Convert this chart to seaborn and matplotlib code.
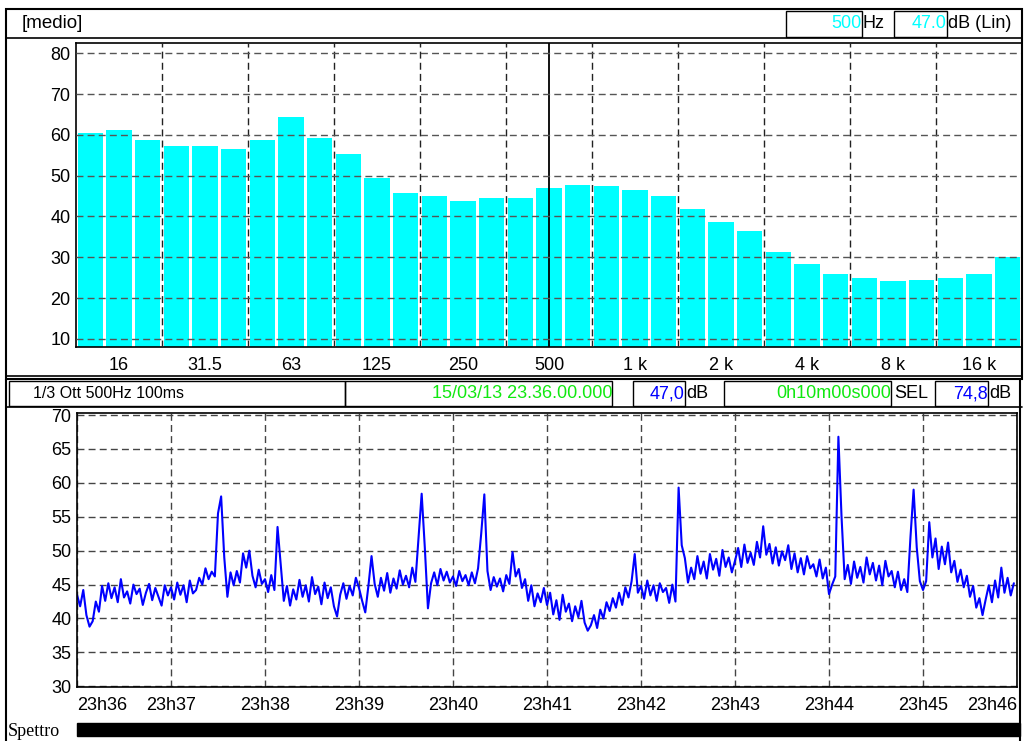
import numpy as np
import pandas as pd
import seaborn as sns
import matplotlib.pyplot as plt
from matplotlib.patches import Rectangle
from matplotlib.lines import Line2D

W, H = 1026, 741

# spettro medio in 1/3 ottava (dB lin)
bande = ["12.5", "16", "20", "25", "31.5", "40", "50", "63", "80", "100",
         "125", "160", "200", "250", "315", "400", "500", "630", "800", "1 k",
         "1.25 k", "1.6 k", "2 k", "2.5 k", "3.15 k", "4 k", "5 k", "6.3 k",
         "8 k", "10 k", "12.5 k", "16 k", "20 k"]
livelli = [60.4, 61.2, 58.8, 57.3, 57.3, 56.6, 58.8, 64.4, 59.3, 55.3,
           49.5, 45.8, 45.0, 43.8, 44.5, 44.5, 47.0, 47.7, 47.5, 46.5,
           45.0, 41.8, 38.7, 36.5, 31.3, 28.4, 25.9, 24.9, 24.2, 24.4,
           24.9, 25.9, 30.1]
banda_cursore = "500"

# andamento nel tempo della banda a 500 Hz (un valore ogni 2 s)
minuti = ["23h36", "23h37", "23h38", "23h39", "23h40", "23h41",
          "23h42", "23h43", "23h44", "23h45", "23h46"]
passo_s = 2
leq = [
    43.5, 41.8, 44.2, 40.5, 38.8, 39.6, 42.5, 41.0, 44.8, 42.6, 45.2, 43.0, 44.6, 42.4, 45.8,
    43.1, 44.0, 42.2, 45.0, 43.6, 44.4, 42.0, 43.8, 45.1, 42.7, 44.5, 43.2, 41.9, 44.9, 43.4,
    44.6, 42.8, 45.3, 43.5, 44.9, 42.4, 45.6, 43.7, 44.2, 46.0, 45.0, 47.4, 45.8, 46.9, 46.2,
    55.5, 58.0, 49.0, 43.2, 46.8, 44.9, 47.0, 45.3, 49.6, 47.5, 50.0, 46.3, 44.6, 47.2, 45.1,
    45.8, 43.9, 46.4, 44.2, 53.5, 48.0, 42.6, 44.8, 41.9, 44.3, 42.8, 45.7, 43.2, 44.9, 42.5,
    46.1, 43.6, 44.7, 42.1, 45.3, 43.0, 44.6, 41.8, 40.3, 43.5, 45.2, 42.9, 44.8, 43.4, 46.0,
    44.5, 42.6, 40.9, 44.8, 49.2, 45.1, 43.2, 46.0, 44.1, 46.7, 43.8, 45.9, 44.4, 47.1, 45.0,
    46.3, 44.6, 47.5, 45.4, 52.0, 58.4, 50.5, 41.5, 45.2, 46.8, 44.9, 47.3, 45.6, 46.9, 45.3,
    46.2, 44.8, 47.0, 45.5, 46.4, 44.9, 46.8, 45.2, 47.4, 52.5, 58.3, 47.0, 44.2, 46.1, 44.7,
    45.9, 44.0, 46.4, 45.1, 49.8, 46.2, 47.3, 44.5, 45.8, 42.6, 44.9, 41.8, 43.7, 42.4, 44.5,
    42.0, 43.8, 40.6, 42.7, 39.8, 43.5, 41.0, 42.2, 39.6, 41.8, 40.2, 42.6, 39.4, 38.2, 39.0,
    40.5, 38.6, 41.3, 40.0, 42.4, 41.1, 43.0, 41.6, 43.8, 42.0, 44.6, 43.1, 45.5, 49.5, 43.8,
    44.8, 42.9, 45.6, 43.4, 44.9, 42.6, 45.2, 43.9, 44.5, 42.3, 45.0, 42.5, 59.3, 50.8, 48.9,
    45.3, 47.5, 45.8, 49.2, 46.6, 48.4, 45.9, 49.5, 47.2, 48.8, 46.3, 50.1, 47.6, 49.0, 46.8,
    48.5, 50.4, 47.6, 50.9, 48.2, 49.7, 47.9, 51.3, 49.0, 53.6, 49.4, 51.0, 48.1, 50.5, 47.8,
    49.9, 48.6, 50.8, 47.3, 49.6, 46.8, 48.9, 46.5, 49.2, 47.4, 48.0, 46.2, 48.7, 45.9, 47.5,
    43.6, 45.0, 46.2, 66.8, 55.0, 45.8, 47.9, 45.1, 48.4, 46.0, 47.6, 45.3, 49.0, 46.5, 48.2,
    45.6, 47.8, 44.9, 48.5, 46.2, 47.0, 44.6, 46.9, 44.2, 45.8, 43.9, 52.0, 59.0, 50.5, 45.5,
    44.2, 45.5, 54.2, 49.0, 51.8, 47.3, 50.6, 48.0, 51.2, 46.8, 48.5, 45.4, 47.2, 44.6, 46.3,
    43.2, 44.8, 41.6, 43.0, 40.5, 42.8, 44.9, 42.4, 45.6, 43.1, 47.5, 43.8, 46.0, 43.4, 45.2,
]

CIANO = "#00ffff"
VERDE = "#10e810"
BLU = "#0000ff"
TRATTEGGIO = (0, (5, 3))


def area(x0, y0, x1, y1):
    # rettangolo in pixel (origine in alto a sinistra) -> frazioni di figura
    return [x0 / W, 1 - y1 / H, (x1 - x0) / W, (y1 - y0) / H]


def cornice(fig, x0, y0, x1, y1, lw=1.0, color="black", fill=False):
    fig.add_artist(Rectangle((x0 / W, 1 - y1 / H), (x1 - x0) / W, (y1 - y0) / H,
                             transform=fig.transFigure, fill=fill,
                             facecolor=color if fill else "none",
                             edgecolor=color, lw=lw))


def linea(fig, x0, y0, x1, y1, lw=1.0, color="black"):
    fig.add_artist(Line2D([x0 / W, x1 / W], [1 - y0 / H, 1 - y1 / H],
                          transform=fig.transFigure, lw=lw, color=color))


def testo(fig, x, y, s, color="black", ha="left", size=13, **kw):
    fig.text(x / W, 1 - y / H, s, color=color, ha=ha, va="center",
             fontsize=size, **kw)


sns.set_style("white")
plt.rcParams["font.family"] = ["Liberation Sans", "DejaVu Sans"]

fig = plt.figure(figsize=(W / 100, H / 100), dpi=100)

# ---- spettro ----
ax1 = fig.add_axes(area(76, 43, 1022, 347))
df_spettro = pd.DataFrame({"banda": bande, "dB": livelli})
sns.barplot(data=df_spettro, x="banda", y="dB", color=CIANO, saturation=1,
            width=0.88, linewidth=0, ax=ax1)
ax1.set_ylim(8, 82.5)
ax1.set_yticks(range(10, 81, 10))
ax1.set_xticks(range(1, len(bande), 3))
ax1.set_xticklabels(bande[1::3])
ax1.set_xticks(np.arange(2.5, len(bande) - 3, 3), minor=True)
ax1.xaxis.grid(True, which="minor", ls=TRATTEGGIO, color="#222222", lw=1)
ax1.xaxis.grid(False, which="major")
ax1.yaxis.grid(True, ls=TRATTEGGIO, color="#555555", lw=1)
ax1.set_axisbelow(False)
ax1.axvline(bande.index(banda_cursore), color="black", lw=1.3)
ax1.tick_params(axis="both", which="major", direction="out", length=4,
                width=1, labelsize=13, colors="black")
ax1.tick_params(axis="y", pad=0)
ax1.tick_params(axis="x", pad=3)
ax1.tick_params(axis="x", which="minor", length=0)
ax1.set_xlabel("")
ax1.set_ylabel("")
for sp in ax1.spines.values():
    sp.set_color("black")
    sp.set_linewidth(1.2)

# ---- andamento temporale ----
ax2 = fig.add_axes(area(77, 413, 1017, 687))
df_tempo = pd.DataFrame({"min": np.arange(len(leq)) * passo_s / 60, "dB": leq})
sns.lineplot(data=df_tempo, x="min", y="dB", color=BLU, lw=1.5, ax=ax2)
ax2.set_xlim(0, len(minuti) - 1)
ax2.set_ylim(29.9, 70.3)
ax2.set_yticks(range(30, 71, 5))
ax2.set_xticks(range(len(minuti)))
ax2.set_xticklabels(minuti)
lab = ax2.get_xticklabels()
lab[0].set_ha("left")
lab[-1].set_ha("right")
ax2.grid(True, ls=TRATTEGGIO, color="#444444", lw=1)
ax2.set_axisbelow(True)
ax2.tick_params(axis="both", direction="out", length=4, width=1,
                labelsize=13, colors="black")
ax2.tick_params(axis="y", pad=0)
ax2.tick_params(axis="x", pad=3)
ax2.set_xlabel("")
ax2.set_ylabel("")
for sp in ax2.spines.values():
    sp.set_color("black")
    sp.set_linewidth(1.2)

# ---- cornici e intestazioni ----
cornice(fig, 6, 9, 1022, 379, lw=1.5)
linea(fig, 6, 38, 1022, 38, lw=1.2)
linea(fig, 6, 376, 1022, 376, lw=1.2)
linea(fig, 6, 407, 1022, 407, lw=1.2)
linea(fig, 6, 379, 6, 741, lw=1.5)
linea(fig, 1020, 379, 1020, 741, lw=1.5)

testo(fig, 22, 24, "[medio]", size=13.5)
cornice(fig, 786, 11, 862, 37)
cornice(fig, 894, 11, 947, 37)
testo(fig, 862, 24, "500", color=CIANO, ha="right")
testo(fig, 863, 24, "Hz")
testo(fig, 947, 24, "47.0", color=CIANO, ha="right")
testo(fig, 948, 24, "dB (Lin)")

cornice(fig, 9, 381, 345, 406)
cornice(fig, 345, 381, 612, 406)
cornice(fig, 633, 381, 685, 406)
cornice(fig, 724, 381, 891, 406)
cornice(fig, 935, 381, 988, 406)
testo(fig, 33, 394, "1/3 Ott 500Hz 100ms", size=11.5)
testo(fig, 612, 394, "15/03/13 23.36.00.000", color=VERDE, ha="right")
testo(fig, 685, 394, "47,0", color=BLU, ha="right")
testo(fig, 686, 394, "dB")
testo(fig, 891, 394, "0h10m00s000", color=VERDE, ha="right")
testo(fig, 894, 394, "SEL")
testo(fig, 988, 394, "74,8", color=BLU, ha="right")
testo(fig, 989, 394, "dB")

testo(fig, 8, 731, "Spettro", size=13, family="Liberation Serif")
cornice(fig, 77, 723, 1020, 736, lw=1, fill=True)

fig.savefig("out.png", dpi=100)
